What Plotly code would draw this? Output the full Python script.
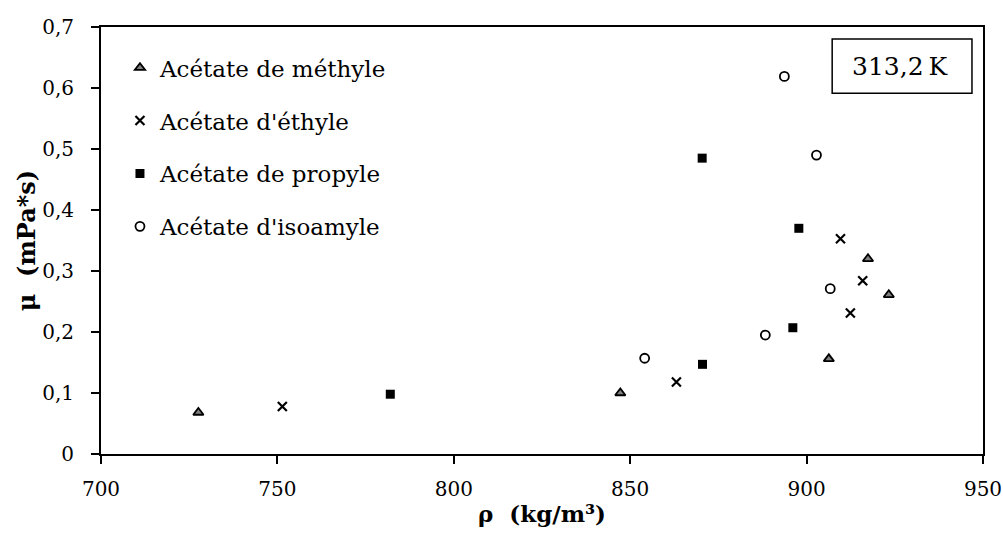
import plotly.graph_objects as go

# Density (kg/m3) and dynamic viscosity (mPa*s) of four acetates at 313,2 K
methyl_rho = [727.6, 847.2, 906.3, 917.4, 923.3]
methyl_mu = [0.068, 0.100, 0.156, 0.320, 0.261]

ethyl_rho = [751.4, 863.1, 912.4, 915.9, 909.6]
ethyl_mu = [0.078, 0.118, 0.231, 0.284, 0.353]

propyl_rho = [782.0, 870.5, 896.1, 897.8, 870.4]
propyl_mu = [0.098, 0.147, 0.207, 0.370, 0.485]

isoamyl_rho = [854.1, 888.3, 906.7, 902.8, 893.7]
isoamyl_mu = [0.157, 0.195, 0.271, 0.490, 0.619]

series_names = ["Acétate de méthyle", "Acétate d'éthyle",
                "Acétate de propyle", "Acétate d'isoamyle"]

x_ticks = [700, 750, 800, 850, 900, 950]
y_ticks = [0, 0.1, 0.2, 0.3, 0.4, 0.5, 0.6, 0.7]
y_tick_text = ["0", "0,1", "0,2", "0,3", "0,4", "0,5", "0,6", "0,7"]
temperature_label = "313,2\u2009K"

FONT = "DejaVu Serif"

fig = go.Figure()

styles = [
    dict(symbol="triangle-up", size=9, color="#808080",
         line=dict(color="black", width=1.8)),
    dict(symbol="x-thin", size=9, color="black",
         line=dict(color="black", width=2.2)),
    dict(symbol="square", size=9, color="black",
         line=dict(color="black", width=0)),
    dict(symbol="circle-open", size=9, color="black",
         line=dict(color="black", width=1.8)),
]
data = [(methyl_rho, methyl_mu), (ethyl_rho, ethyl_mu),
        (propyl_rho, propyl_mu), (isoamyl_rho, isoamyl_mu)]

for i, ((xs, ys), name, mk) in enumerate(zip(data, series_names, styles)):
    fig.add_trace(go.Scatter(
        x=xs, y=ys, mode="markers", name=name, marker=mk,
        legendgroup=f"g{i}", cliponaxis=False,
    ))

axis_common = dict(
    showline=True, linecolor="black", linewidth=2, mirror=True,
    ticks="outside", ticklen=8, tickwidth=2, tickcolor="black",
    showgrid=False, zeroline=False, automargin=False,
    tickfont=dict(family=FONT, size=20, color="black"),
)

fig.update_xaxes(
    range=[700, 950], tickvals=x_ticks, ticklabelstandoff=8,
    title=dict(text="<b>ρ  (kg/m³)</b>", font=dict(family=FONT, size=23, color="black"),
               standoff=6),
    **axis_common,
)
fig.update_yaxes(
    range=[0, 0.7], tickvals=y_ticks, ticktext=y_tick_text, ticklabelstandoff=13,
    title=dict(text="<b>μ  (mPa*s)</b>", font=dict(family=FONT, size=24, color="black"),
               standoff=0),
    **axis_common,
)

# temperature box in the upper-right corner
fig.add_shape(type="rect", xref="paper", yref="paper",
              x0=0.829, x1=0.9875, y0=0.845, y1=0.972,
              line=dict(color="black", width=1.5), fillcolor="white")
fig.add_annotation(xref="paper", yref="paper", x=0.906, y=0.9085,
                   xanchor="center", yanchor="middle",
                   text=temperature_label, showarrow=False,
                   font=dict(family=FONT, size=25, color="black"))

fig.update_layout(
    width=1003, height=544,
    margin=dict(l=101, r=20, t=27, b=90),
    plot_bgcolor="white", paper_bgcolor="white",
    font=dict(family=FONT, color="black"),
    showlegend=True,
    legend=dict(
        x=0.0215, y=0.955, xanchor="left", yanchor="top",
        bgcolor="rgba(0,0,0,0)", traceorder="grouped",
        tracegroupgap=20, itemwidth=30,
        font=dict(family=FONT, size=23, color="black"),
    ),
)

fig.write_html("out.html")
